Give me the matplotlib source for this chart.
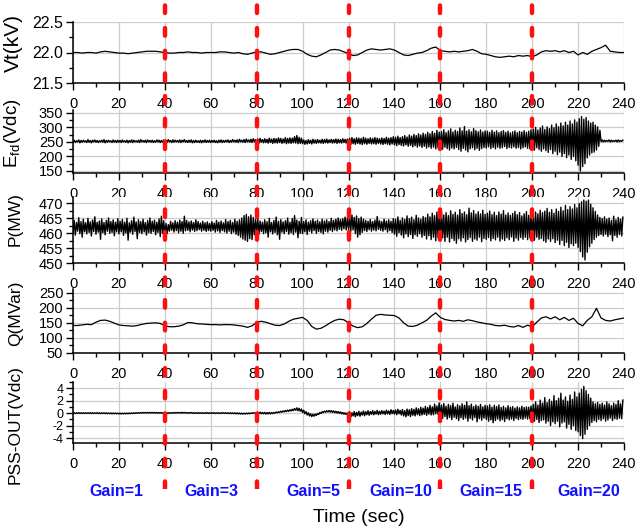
import numpy as np
import matplotlib
matplotlib.use("Agg")
import matplotlib.pyplot as plt
import matplotlib.transforms as mtransforms
from matplotlib.ticker import MultipleLocator

# ---------------------------------------------------------------
# Data
# slow signals: one sample every 2 s, t = 0..240
# noisy signals: upper / lower extreme of every 1 s window
# ---------------------------------------------------------------
t_end = 240
slow_step = 2
noisy_step = 1

# terminal voltage, kV
vt = [
    22.00, 22.00, 21.99, 22.00, 22.00, 21.99, 22.01, 22.02, 22.01, 22.00,
    21.99, 21.99, 21.98, 21.99, 22.00, 22.01, 22.02, 22.02, 22.02, 22.01,
    22.00, 21.99, 21.99, 22.00, 22.00, 22.01, 22.00, 22.00, 21.99, 22.00,
    22.00, 22.00, 22.01, 22.01, 22.00, 21.99, 22.00, 21.98, 21.97, 21.99,
    22.01, 22.01, 21.99, 21.97, 21.98, 22.00, 22.02, 22.04, 22.05, 22.05,
    22.02, 21.97, 21.94, 21.93, 21.96, 22.00, 22.04, 22.05, 22.04, 22.01,
    21.98, 21.95, 21.96, 22.00, 22.04, 22.06, 22.05, 22.04, 22.05, 22.06,
    22.04, 22.00, 21.96, 21.95, 21.97, 21.99, 22.00, 22.03, 22.07, 22.09,
    22.03, 22.02, 22.01, 22.02, 22.01, 22.02, 22.03, 22.05, 22.02, 21.98,
    21.97, 21.95, 21.93, 21.92, 21.93, 21.94, 21.93, 21.95, 21.94, 21.95,
    21.93, 21.96, 22.01, 22.03, 22.02, 22.03, 22.01, 22.03, 22.00, 22.02,
    21.96, 22.00, 21.97, 22.02, 22.05, 22.08, 22.12, 22.02, 22.01, 22.00,
    22.00,
]

# reactive power, MVar
q = [
    141, 141, 143, 145, 144, 152, 158, 159, 155, 149,
    143, 141, 140, 139, 141, 145, 148, 149, 150, 148,
    140, 137, 137, 139, 143, 151, 150, 147, 146, 145,
    144, 144, 143, 144, 144, 143, 141, 139, 135, 140,
    152, 155, 152, 147, 142, 141, 146, 155, 162, 165,
    168, 158, 138, 129, 132, 140, 150, 158, 162, 160,
    150, 139, 134, 137, 148, 162, 175, 178, 176, 175,
    174, 166, 150, 139, 138, 142, 150, 158, 172, 183,
    168, 161, 158, 156, 158, 155, 160, 157, 153, 150,
    147, 145, 141, 140, 142, 138, 136, 141, 135, 142,
    137, 152, 166, 170, 163, 170, 160, 168, 158, 165,
    148, 140, 158, 170, 198, 166, 158, 156, 160, 163,
    166,
]

# field voltage, Vdc
efd_hi = [
    256, 254, 257, 255, 256, 254, 258, 255, 256, 257, 255, 254, 256, 258, 255, 256, 254, 257, 255, 256,
    255, 257, 254, 256, 255, 257, 256, 254, 256, 258, 255, 256, 257, 255, 256, 254, 257, 256, 255, 257,
    256, 258, 255, 257, 256, 255, 257, 256, 258, 255, 256, 257, 255, 256, 254, 256, 255, 257, 255, 256,
    255, 256, 254, 256, 257, 255, 256, 257, 255, 258, 256, 257, 259, 256, 258, 260, 257, 259, 261, 258,
    260, 262, 258, 261, 259, 263, 260, 262, 261, 264, 262, 260, 265, 262, 264, 263, 268, 272, 266, 263,
    257, 255, 258, 256, 259, 257, 258, 256, 259, 258, 260, 257, 259, 258, 260, 259, 258, 261, 259, 260,
    262, 265, 261, 264, 263, 262, 266, 263, 261, 264, 262, 265, 263, 261, 264, 262, 266, 263, 265, 268,
    266, 270, 265, 268, 272, 267, 274, 270, 276, 272, 278, 274, 280, 276, 283, 278, 286, 280, 290, 284,
    286, 292, 282, 288, 295, 284, 290, 286, 298, 288, 303, 287, 292, 285, 296, 289, 285, 291, 284, 288,
    287, 283, 290, 284, 288, 282, 286, 289, 283, 287, 281, 285, 288, 282, 286, 284, 289, 283, 287, 292,
    294, 300, 291, 298, 305, 293, 302, 296, 308, 299, 312, 302, 315, 305, 318, 308, 322, 312, 326, 318,
    330, 337, 328, 334, 322, 315, 318, 308, 302, 290, 257, 256, 255, 257, 256, 255, 256, 257, 255, 256,
]
efd_lo = [
    249, 248, 250, 247, 249, 250, 248, 249, 247, 250, 249, 248, 250, 249, 247, 249, 250, 248, 249, 248,
    249, 248, 250, 249, 247, 249, 248, 250, 249, 248, 250, 249, 248, 250, 249, 248, 249, 250, 248, 249,
    248, 249, 250, 248, 249, 250, 249, 248, 250, 249, 248, 249, 247, 248, 249, 248, 247, 249, 248, 249,
    248, 249, 248, 247, 249, 248, 249, 250, 248, 249, 250, 249, 248, 250, 249, 248, 250, 249, 248, 250,
    248, 246, 249, 247, 248, 246, 248, 245, 247, 246, 248, 245, 247, 244, 246, 245, 247, 246, 244, 245,
    244, 242, 243, 245, 243, 246, 245, 247, 246, 245, 247, 246, 248, 246, 247, 245, 247, 246, 248, 246,
    243, 241, 244, 242, 245, 243, 241, 244, 242, 245, 243, 244, 242, 245, 243, 241, 244, 242, 240, 243,
    240, 237, 241, 238, 236, 240, 235, 238, 233, 237, 232, 236, 231, 235, 229, 233, 228, 232, 226, 230,
    230, 225, 232, 227, 222, 229, 226, 231, 224, 218, 228, 222, 216, 226, 230, 223, 228, 221, 227, 231,
    229, 233, 227, 231, 226, 232, 228, 230, 234, 227, 231, 229, 233, 228, 231, 226, 230, 233, 228, 226,
    228, 222, 230, 224, 218, 226, 220, 214, 224, 210, 218, 206, 215, 200, 210, 196, 205, 190, 200, 185,
    170, 150, 165, 175, 195, 205, 212, 215, 222, 235, 251, 250, 251, 252, 250, 251, 252, 250, 251, 252,
]

# active power, MW
p_hi = [
    464.2, 463.5, 465.1, 463.8, 464.6, 463.4, 464.9, 463.7, 464.3, 465.4, 463.6, 464.0, 464.7, 463.5, 464.2, 465.0, 463.8, 464.4, 463.6, 464.8,
    463.9, 464.5, 463.6, 464.9, 463.4, 464.1, 465.3, 463.7, 464.4, 463.8, 464.6, 463.5, 464.2, 465.0, 463.9, 464.3, 463.6, 464.7, 465.6, 464.1,
    463.2, 462.8, 463.9, 463.4, 464.1, 463.6, 464.3, 463.8, 465.6, 464.2, 463.7, 464.0, 463.5, 464.4, 463.8, 463.3, 463.9, 463.4, 463.7, 463.2,
    463.8, 463.3, 464.2, 463.6, 464.0, 463.4, 464.5, 463.8, 464.2, 463.5, 464.6, 463.9, 464.4, 465.0, 465.8, 466.2, 465.4, 466.0, 465.2, 464.6,
    464.8, 464.0, 463.6, 464.4, 463.8, 464.9, 463.5, 464.2, 465.3, 463.9, 464.5, 463.7, 464.1, 465.0, 463.6, 464.8, 465.8, 464.3, 463.9, 465.2,
    463.8, 464.4, 463.6, 464.1, 464.7, 463.9, 464.3, 463.7, 464.6, 464.0, 464.4, 463.8, 464.9, 464.2, 464.6, 465.0, 464.5, 464.8, 465.3, 465.0,
    465.6, 466.0, 465.2, 465.7, 464.8, 465.3, 464.6, 464.2, 463.9, 464.5, 463.8, 464.3, 465.5, 464.1, 463.8, 464.6, 464.0, 464.4, 463.9, 464.8,
    464.6, 465.4, 464.2, 465.0, 464.5, 465.7, 464.8, 465.3, 464.4, 465.9, 465.0, 464.6, 465.5, 465.1, 466.3, 465.4, 466.6, 465.8, 467.0, 466.2,
    467.2, 466.0, 466.8, 465.8, 467.4, 466.2, 466.9, 466.0, 467.8, 466.5, 467.0, 466.1, 468.3, 466.7, 467.5, 466.3, 467.1, 466.4, 467.6, 466.2,
    466.6, 467.3, 466.1, 466.9, 465.8, 467.0, 466.3, 467.5, 466.0, 466.7, 465.9, 466.5, 467.2, 466.1, 466.8, 465.7, 466.4, 467.1, 465.9, 466.6,
    466.2, 467.0, 466.4, 467.6, 466.8, 467.3, 468.2, 466.9, 467.8, 466.6, 468.0, 467.2, 468.6, 467.4, 469.2, 467.8, 468.8, 468.0, 469.5, 468.4,
    469.8, 470.4, 471.0, 470.6, 471.0, 469.6, 468.4, 467.2, 466.0, 465.2, 464.8, 465.4, 464.6, 465.0, 464.2, 465.6, 464.4, 465.2, 464.6, 465.3,
]
p_lo = [
    460.1, 459.3, 460.6, 459.8, 458.6, 460.4, 459.7, 460.2, 459.0, 460.5, 459.6, 460.3, 457.9, 460.1, 459.4, 460.6, 459.9, 460.2, 459.1, 460.4,
    459.7, 460.4, 459.2, 460.0, 457.6, 460.3, 459.6, 460.5, 458.1, 460.2, 459.8, 460.4, 459.3, 460.1, 459.9, 460.5, 459.4, 460.2, 458.8, 459.9,
    459.2, 459.8, 460.6, 460.9, 460.3, 460.8, 460.1, 460.6, 459.9, 460.7, 460.9, 460.4, 461.0, 460.5, 460.8, 461.1, 460.6, 460.9, 460.5, 460.8,
    460.6, 460.9, 460.3, 460.7, 460.2, 460.8, 460.4, 460.0, 460.6, 459.8, 460.3, 459.6, 459.2, 458.6, 458.0, 457.6, 457.2, 458.1, 457.8, 459.4,
    460.2, 459.6, 460.5, 459.8, 460.1, 458.6, 460.4, 459.7, 460.2, 459.4, 457.9, 460.3, 459.8, 460.5, 459.6, 460.1, 459.5, 460.3, 458.4, 459.9,
    459.8, 460.4, 459.5, 460.6, 460.0, 460.8, 459.9, 460.5, 460.2, 459.7, 460.6, 460.3, 460.9, 460.5, 461.0, 460.7, 461.2, 460.9, 461.4, 461.0,
    461.2, 460.6, 461.0, 459.8, 458.6, 459.4, 460.2, 460.8, 460.5, 461.1, 460.6, 461.0, 460.7, 461.2, 460.9, 460.6, 461.1, 460.3, 460.8, 460.2,
    459.6, 458.9, 460.1, 459.3, 458.4, 459.7, 458.8, 459.5, 458.2, 459.4, 458.9, 459.8, 458.6, 459.2, 458.0, 459.1, 457.8, 458.6, 457.4, 458.5,
    457.6, 458.4, 457.2, 458.6, 457.0, 458.2, 457.5, 456.6, 458.1, 457.3, 458.4, 457.0, 457.8, 458.5, 457.2, 458.0, 457.6, 458.6, 457.1, 458.2,
    457.9, 458.5, 457.4, 458.2, 457.7, 458.6, 457.3, 458.0, 457.5, 458.4, 457.8, 458.7, 457.2, 458.3, 457.6, 458.5, 457.9, 458.6, 457.8, 458.4,
    458.4, 457.6, 458.6, 457.9, 458.2, 457.4, 456.9, 458.0, 457.2, 458.1, 456.8, 457.6, 456.2, 457.5, 455.8, 456.9, 455.2, 456.4, 455.8, 456.6,
    455.2, 453.8, 452.0, 451.0, 453.6, 455.4, 456.6, 457.8, 458.6, 459.2, 459.5, 459.0, 459.6, 458.8, 459.4, 457.4, 459.2, 458.6, 459.5, 459.0,
]

# stabilizer output, Vdc
pss_hi = [
    0.06, 0.04, 0.07, 0.05, 0.06, 0.04, 0.05, 0.07, 0.05, 0.04, 0.06, 0.05, 0.03, 0.05, 0.04, 0.02, 0.03, 0.01, 0.02, 0.00,
    0.00, -0.01, 0.01, 0.00, 0.02, 0.03, 0.05, 0.06, 0.08, 0.09, 0.11, 0.10, 0.12, 0.11, 0.12, 0.10, 0.11, 0.09, 0.10, 0.08,
    0.07, 0.06, 0.08, 0.09, 0.10, 0.12, 0.11, 0.13, 0.11, 0.10, 0.09, 0.10, 0.08, 0.07, 0.08, 0.06, 0.07, 0.06, 0.08, 0.06,
    0.05, 0.07, 0.05, 0.06, 0.05, 0.07, 0.06, 0.05, 0.06, 0.04, 0.05, 0.03, 0.02, 0.00, -0.01, 0.00, 0.02, 0.03, 0.06, 0.08,
    0.12, 0.15, 0.10, 0.13, 0.09, 0.11, 0.08, 0.12, 0.18, 0.22, 0.30, 0.36, 0.42, 0.48, 0.55, 0.62, 0.75, 0.85, 0.78, 0.65,
    0.45, 0.25, 0.05, -0.10, -0.18, -0.15, -0.05, 0.10, 0.22, 0.32, 0.38, 0.42, 0.40, 0.36, 0.30, 0.25, 0.20, 0.12, 0.05, 0.02,
    0.20, 0.05, 0.25, 0.10, 0.30, 0.15, 0.35, 0.22, 0.38, 0.25, 0.42, 0.28, 0.45, 0.30, 0.40, 0.32, 0.48, 0.35, 0.55, 0.42,
    0.50, 0.62, 0.45, 0.58, 0.40, 0.65, 0.55, 0.72, 0.60, 0.85, 0.70, 0.95, 0.80, 1.10, 0.90, 1.25, 1.00, 1.45, 1.15, 1.65,
    1.30, 1.55, 1.10, 1.40, 1.20, 1.60, 1.00, 1.35, 1.15, 1.50, 1.25, 1.80, 1.20, 1.45, 1.05, 1.30, 1.10, 1.40, 1.00, 1.25,
    1.15, 1.35, 0.95, 1.25, 1.05, 1.30, 0.90, 1.10, 0.85, 1.20, 0.95, 1.05, 0.80, 1.00, 0.85, 1.10, 0.90, 1.00, 0.95, 1.15,
    1.40, 1.80, 1.30, 2.10, 1.60, 2.50, 1.70, 2.20, 1.90, 2.80, 2.00, 2.40, 3.20, 2.10, 2.60, 1.90, 2.90, 2.20, 3.40, 2.60,
    3.20, 3.80, 4.30, 3.60, 3.00, 2.40, 1.80, 1.50, 1.70, 1.40, 1.60, 1.30, 1.80, 1.50, 1.20, 1.60, 1.40, 2.00, 1.50, 2.10,
]
pss_lo = [
    -0.05, -0.07, -0.04, -0.06, -0.05, -0.06, -0.04, -0.05, -0.07, -0.06, -0.05, -0.07, -0.08, -0.06, -0.08, -0.10, -0.09, -0.12, -0.10, -0.12,
    -0.13, -0.14, -0.12, -0.13, -0.11, -0.09, -0.07, -0.05, -0.03, -0.02, 0.00, 0.01, 0.02, 0.01, 0.02, 0.00, 0.01, -0.01, 0.00, -0.02,
    -0.05, -0.04, -0.03, -0.02, -0.01, 0.00, 0.01, 0.00, 0.01, -0.01, -0.02, -0.01, -0.03, -0.04, -0.03, -0.05, -0.04, -0.05, -0.03, -0.05,
    -0.05, -0.04, -0.06, -0.05, -0.06, -0.04, -0.05, -0.06, -0.07, -0.08, -0.09, -0.11, -0.13, -0.15, -0.16, -0.14, -0.12, -0.10, -0.06, -0.04,
    -0.04, -0.06, -0.10, -0.12, -0.15, -0.13, -0.12, -0.08, -0.02, 0.04, 0.10, 0.14, 0.20, 0.24, 0.28, 0.34, 0.40, 0.45, 0.38, 0.30,
    0.10, -0.10, -0.30, -0.45, -0.55, -0.50, -0.38, -0.22, -0.05, 0.08, 0.15, 0.18, 0.16, 0.12, 0.06, 0.02, -0.05, -0.12, -0.18, -0.22,
    -0.50, -0.65, -0.45, -0.58, -0.40, -0.50, -0.32, -0.42, -0.25, -0.35, -0.20, -0.28, -0.15, -0.25, -0.18, -0.10, -0.22, -0.12, -0.20, -0.08,
    -0.15, -0.25, -0.10, -0.30, -0.45, -0.60, -0.40, -0.55, -0.35, -0.45, -0.25, -0.40, -0.30, -0.20, -0.35, -0.15, -0.30, -0.25, -0.10, -0.20,
    -0.60, -0.85, -0.55, -0.95, -0.70, -1.05, -0.65, -0.90, -1.20, -0.75, -1.00, -0.80, -1.30, -0.85, -1.10, -0.70, -1.40, -0.90, -1.15, -0.80,
    -1.00, -1.30, -1.10, -1.55, -1.20, -0.95, -1.25, -1.05, -1.35, -0.90, -1.10, -0.95, -1.20, -0.85, -1.05, -0.90, -1.00, -0.80, -0.95, -0.90,
    -0.90, -1.30, -1.00, -1.50, -1.20, -1.10, -1.60, -1.30, -2.00, -1.40, -1.70, -1.30, -2.20, -1.60, -1.40, -2.40, -1.80, -2.60, -2.00, -2.80,
    -3.00, -3.60, -4.10, -3.40, -2.60, -2.00, -1.50, -1.20, -1.40, -1.00, -1.20, -0.90, -1.30, -1.10, -0.80, -1.20, -0.90, -1.00, -0.80, -0.90,
]

# gain steps of the PSS test
gain_edges = [0, 40, 80, 120, 160, 200, 240]
gain_values = [1, 3, 5, 10, 15, 20]

x_ticks = list(range(0, 241, 20))
y_labels = ["Vt(kV)", r"E$_{\mathrm{fd}}$(Vdc)", "P(MW)", "Q(MVar)", "PSS-OUT(Vdc)"]
y_limits = [(21.5, 22.5), (143, 360), (450, 472), (50, 262), (-4.8, 5.0)]
y_ticks = [
    [21.5, 22.0, 22.5],
    [150, 200, 250, 300, 350],
    [450, 455, 460, 465, 470],
    [50, 100, 150, 200, 250],
    [-4, -2, 0, 2, 4],
]
y_tick_fmt = ["{:.1f}", "{:.0f}", "{:.0f}", "{:.0f}", "{:.0f}"]

# ---------------------------------------------------------------
# Layout (pixels of the 638x530 canvas) and text sizes
# ---------------------------------------------------------------
W, H = 638, 530
left_px, right_px = 73, 624
panel_px = [(22, 83), (110, 173), (197, 263), (289, 353), (382, 443)]  # top, bottom
ylabel_y = [0.66, 0.63, 0.66, 0.625, 0.31]
ylabel_size = [15, 13.5, 12.5, 12.5, 12.5]
ytick_size = [11.5, 10.5, 10.5, 10.5, 9]
line_w = [0.9, 1.0, 1.0, 0.9, 1.0]
gain_label_dx = [-1, 0.4, 4.5, 2.8, 2, 4.7]

plt.rcParams["font.family"] = ["Liberation Sans", "DejaVu Sans"]
plt.rcParams["mathtext.fontset"] = "custom"
plt.rcParams["mathtext.rm"] = "Liberation Sans"
plt.rcParams["mathtext.it"] = "Liberation Sans:italic"


def zigzag(hi, lo):
    """Alternate the lower and upper extreme of every window."""
    t0 = np.arange(len(hi)) * noisy_step
    x = np.empty(2 * len(hi))
    y = np.empty(2 * len(hi))
    x[0::2] = t0
    x[1::2] = t0 + noisy_step / 2
    y[0::2] = lo
    y[1::2] = hi
    return x, y


t_slow = np.arange(0, t_end + 1, slow_step)
series = [
    (t_slow, np.array(vt)),
    zigzag(efd_hi, efd_lo),
    zigzag(p_hi, p_lo),
    (t_slow, np.array(q)),
    zigzag(pss_hi, pss_lo),
]

fig = plt.figure(figsize=(W / 100, H / 100), dpi=100)
grid_col = "#cccccc"

for i, (x, y) in enumerate(series):
    top, bot = panel_px[i]
    ax = fig.add_axes([left_px / W, 1 - bot / H, (right_px - left_px) / W, (bot - top) / H])
    ax.plot(x, y, color="black", lw=line_w[i])
    ax.set_xlim(0, t_end)
    ax.set_ylim(*y_limits[i])
    ax.set_xticks(x_ticks)
    ax.xaxis.set_minor_locator(MultipleLocator(10))
    ax.set_yticks(y_ticks[i])
    ax.set_yticklabels([y_tick_fmt[i].format(v) for v in y_ticks[i]])
    step = y_ticks[i][1] - y_ticks[i][0]
    ax.yaxis.set_minor_locator(MultipleLocator(step / 2))
    ax.grid(True, which="major", color=grid_col, lw=0.9)
    ax.set_axisbelow(True)
    for s in ("top", "right"):
        ax.spines[s].set_visible(False)
    for s in ("left", "bottom"):
        ax.spines[s].set_linewidth(1.1)
    ax.tick_params(which="major", direction="out", length=5, width=1.0)
    ax.tick_params(axis="x", which="major", pad=5, labelsize=10.5)
    ax.tick_params(axis="y", which="major", pad=2, labelsize=ytick_size[i])
    ax.tick_params(which="minor", direction="out", length=3, width=1.0)
    ax.set_ylabel(y_labels[i], fontsize=ylabel_size[i])
    ax.yaxis.set_label_coords(-0.091, ylabel_y[i])

# transparent overlay carrying the red dashed gain boundaries
ov = fig.add_axes([left_px / W, 41 / H, (right_px - left_px) / W, 1 - 41 / H])
ov.set_xlim(0, t_end)
ov.set_ylim(0, 1)
ov.axis("off")
ov.patch.set_alpha(0)
for edge in gain_edges[1:-1]:
    ov.axvline(edge, color="#ff1010", lw=3.2, linestyle=(0, (1.7, 3.4)),
               dash_capstyle="round")

# gain annotations below the last panel
trans = mtransforms.blended_transform_factory(ov.transData, fig.transFigure)
for k, g in enumerate(gain_values):
    xm = (gain_edges[k] + gain_edges[k + 1]) / 2 + gain_label_dx[k]
    fig.text(xm, 1 - 492 / H, "Gain=%d" % g, transform=trans, color="#1010ff",
             fontsize=11.5, fontweight="bold", ha="center", va="center")

fig.text(359 / W, 1 - 517 / H, "Time (sec)", fontsize=14, ha="center", va="center")

fig.savefig("out.png", dpi=100)
